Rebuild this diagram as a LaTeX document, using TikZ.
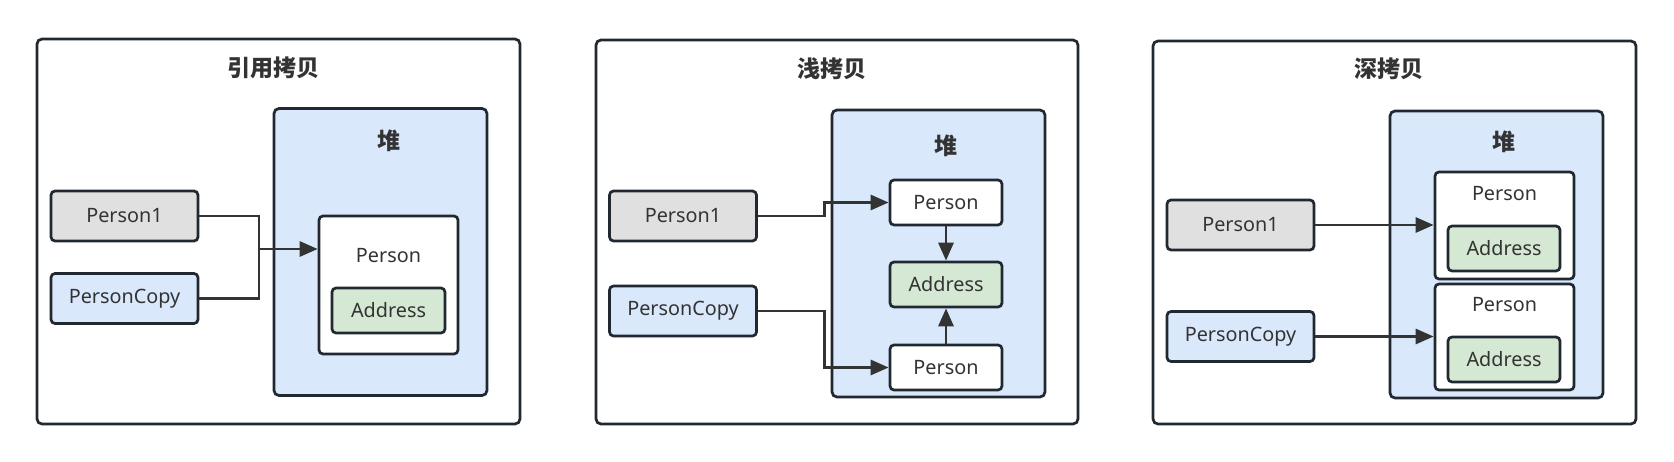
\documentclass[tikz,border=0pt]{standalone}
\usepackage{fontspec}
\setmainfont{Noto Sans}
\newfontfamily\cjk{Noto Sans CJK SC}
\usetikzlibrary{arrows.meta,positioning,calc}
\definecolor{edge}{HTML}{212830}
\definecolor{ink}{HTML}{333333}
\definecolor{greyfill}{HTML}{E0E0E0}
\definecolor{heapblue}{HTML}{DAE8FC}
\definecolor{addrgreen}{HTML}{D5E8D4}

\begin{document}
\begin{tikzpicture}[x=1pt,y=-1pt,
    every node/.style={font=\fontsize{19.8}{23}\selectfont, text=ink},
    panelbox/.style={draw=edge, line width=2.7pt, rounded corners=5pt, fill=white},
    heapbox/.style={draw=edge, line width=2.7pt, rounded corners=5pt, fill=heapblue,
      minimum width=213pt, minimum height=287pt},
    refbox/.style={draw=edge, line width=2.7pt, rounded corners=4pt,
      minimum width=147pt, minimum height=50pt},
    objbox/.style={draw=edge, line width=2.7pt, rounded corners=4pt, fill=white},
    addrbox/.style={draw=edge, line width=2.7pt, rounded corners=4pt, fill=addrgreen,
      minimum width=113pt, minimum height=45pt},
    titletext/.style={font=\cjk\bfseries\fontsize{23}{27}\selectfont},
    wire/.style={draw=ink, line width=2.9pt},
    arrowline/.style={wire, -{Triangle[length=18pt,width=15pt]}},
  ]
  \useasboundingbox (0,0) rectangle (1674,462);

  % reference copy
  \node[panelbox, minimum width=483pt, minimum height=385pt] (panel1) at (278.5,231.5) {};
  \node[titletext] (title1) at (273,68) {引用拷贝};
  \node[heapbox] (heap1) at (380.5,252) {};
  \node[titletext] (heaplbl1) at (389,141) {堆};
  \node[refbox, fill=greyfill] (p1a) at (124.5,216) {Person1};
  \node[refbox, fill=heapblue] (pc1a) at (124.5,298.5) {PersonCopy};
  \node[objbox, minimum width=139pt, minimum height=138pt] (obj1) at (388.5,285) {};
  \node (objtxt1) at (388.5,256) {Person};
  \node[addrbox] (addr1) at (388.5,310.5) {Address};
  \coordinate (j1) at (259,249);
  \draw[wire] (p1a.east) -| (j1);
  \draw[wire] (pc1a.east) -| (j1);
  \draw[arrowline] (j1) -- (j1 -| obj1.west);

  % shallow copy
  \node[panelbox, minimum width=482pt, minimum height=384pt] (panel2) at (837,232) {};
  \node[titletext] (title2) at (832,69) {浅拷贝};
  \node[heapbox] (heap2) at (938.5,253.5) {};
  \node[titletext] (heaplbl2) at (946,146) {堆};
  \node[refbox, fill=greyfill] (p1b) at (683,216) {Person1};
  \node[refbox, fill=heapblue] (pc1b) at (683,311) {PersonCopy};
  \node[objbox, minimum width=112pt, minimum height=45pt] (obj2a) at (946,202.5) {Person};
  \node[addrbox, minimum width=112pt] (addr2) at (946,284.5) {Address};
  \node[objbox, minimum width=112pt, minimum height=45pt] (obj2b) at (946,367.5) {Person};
  \draw[arrowline] (p1b.east) -- ++(67,0) |- (obj2a.west);
  \draw[arrowline] (pc1b.east) -- ++(67,0) |- (obj2b.west);
  \draw[arrowline] (obj2a.south) -- (addr2.north);
  \draw[arrowline] (obj2b.north) -- (addr2.south);

  % deep copy
  \node[panelbox, minimum width=483pt, minimum height=383pt] (panel3) at (1394.5,232.5) {};
  \node[titletext] (title3) at (1389,69) {深拷贝};
  \node[heapbox] (heap3) at (1496.5,254.5) {};
  \node[titletext] (heaplbl3) at (1504,142) {堆};
  \node[refbox, fill=greyfill] (p1c) at (1240.5,225) {Person1};
  \node[refbox, fill=heapblue] (pc1c) at (1240.5,336.5) {PersonCopy};
  \node[objbox, minimum width=139pt, minimum height=107pt] (obj3a) at (1504.5,225.5) {};
  \node (objtxt3a) at (1504.5,194) {Person};
  \node[addrbox, minimum width=112pt] (addr3a) at (1504,248.5) {Address};
  \node[objbox, minimum width=139pt, minimum height=106pt] (obj3b) at (1504.5,337) {};
  \node (objtxt3b) at (1504.5,305) {Person};
  \node[addrbox, minimum width=112pt] (addr3b) at (1504,359.5) {Address};
  \draw[arrowline] (p1c.east) -- (p1c.east -| obj3a.west);
  \draw[arrowline] (pc1c.east) -- (pc1c.east -| obj3b.west);
\end{tikzpicture}
\end{document}
